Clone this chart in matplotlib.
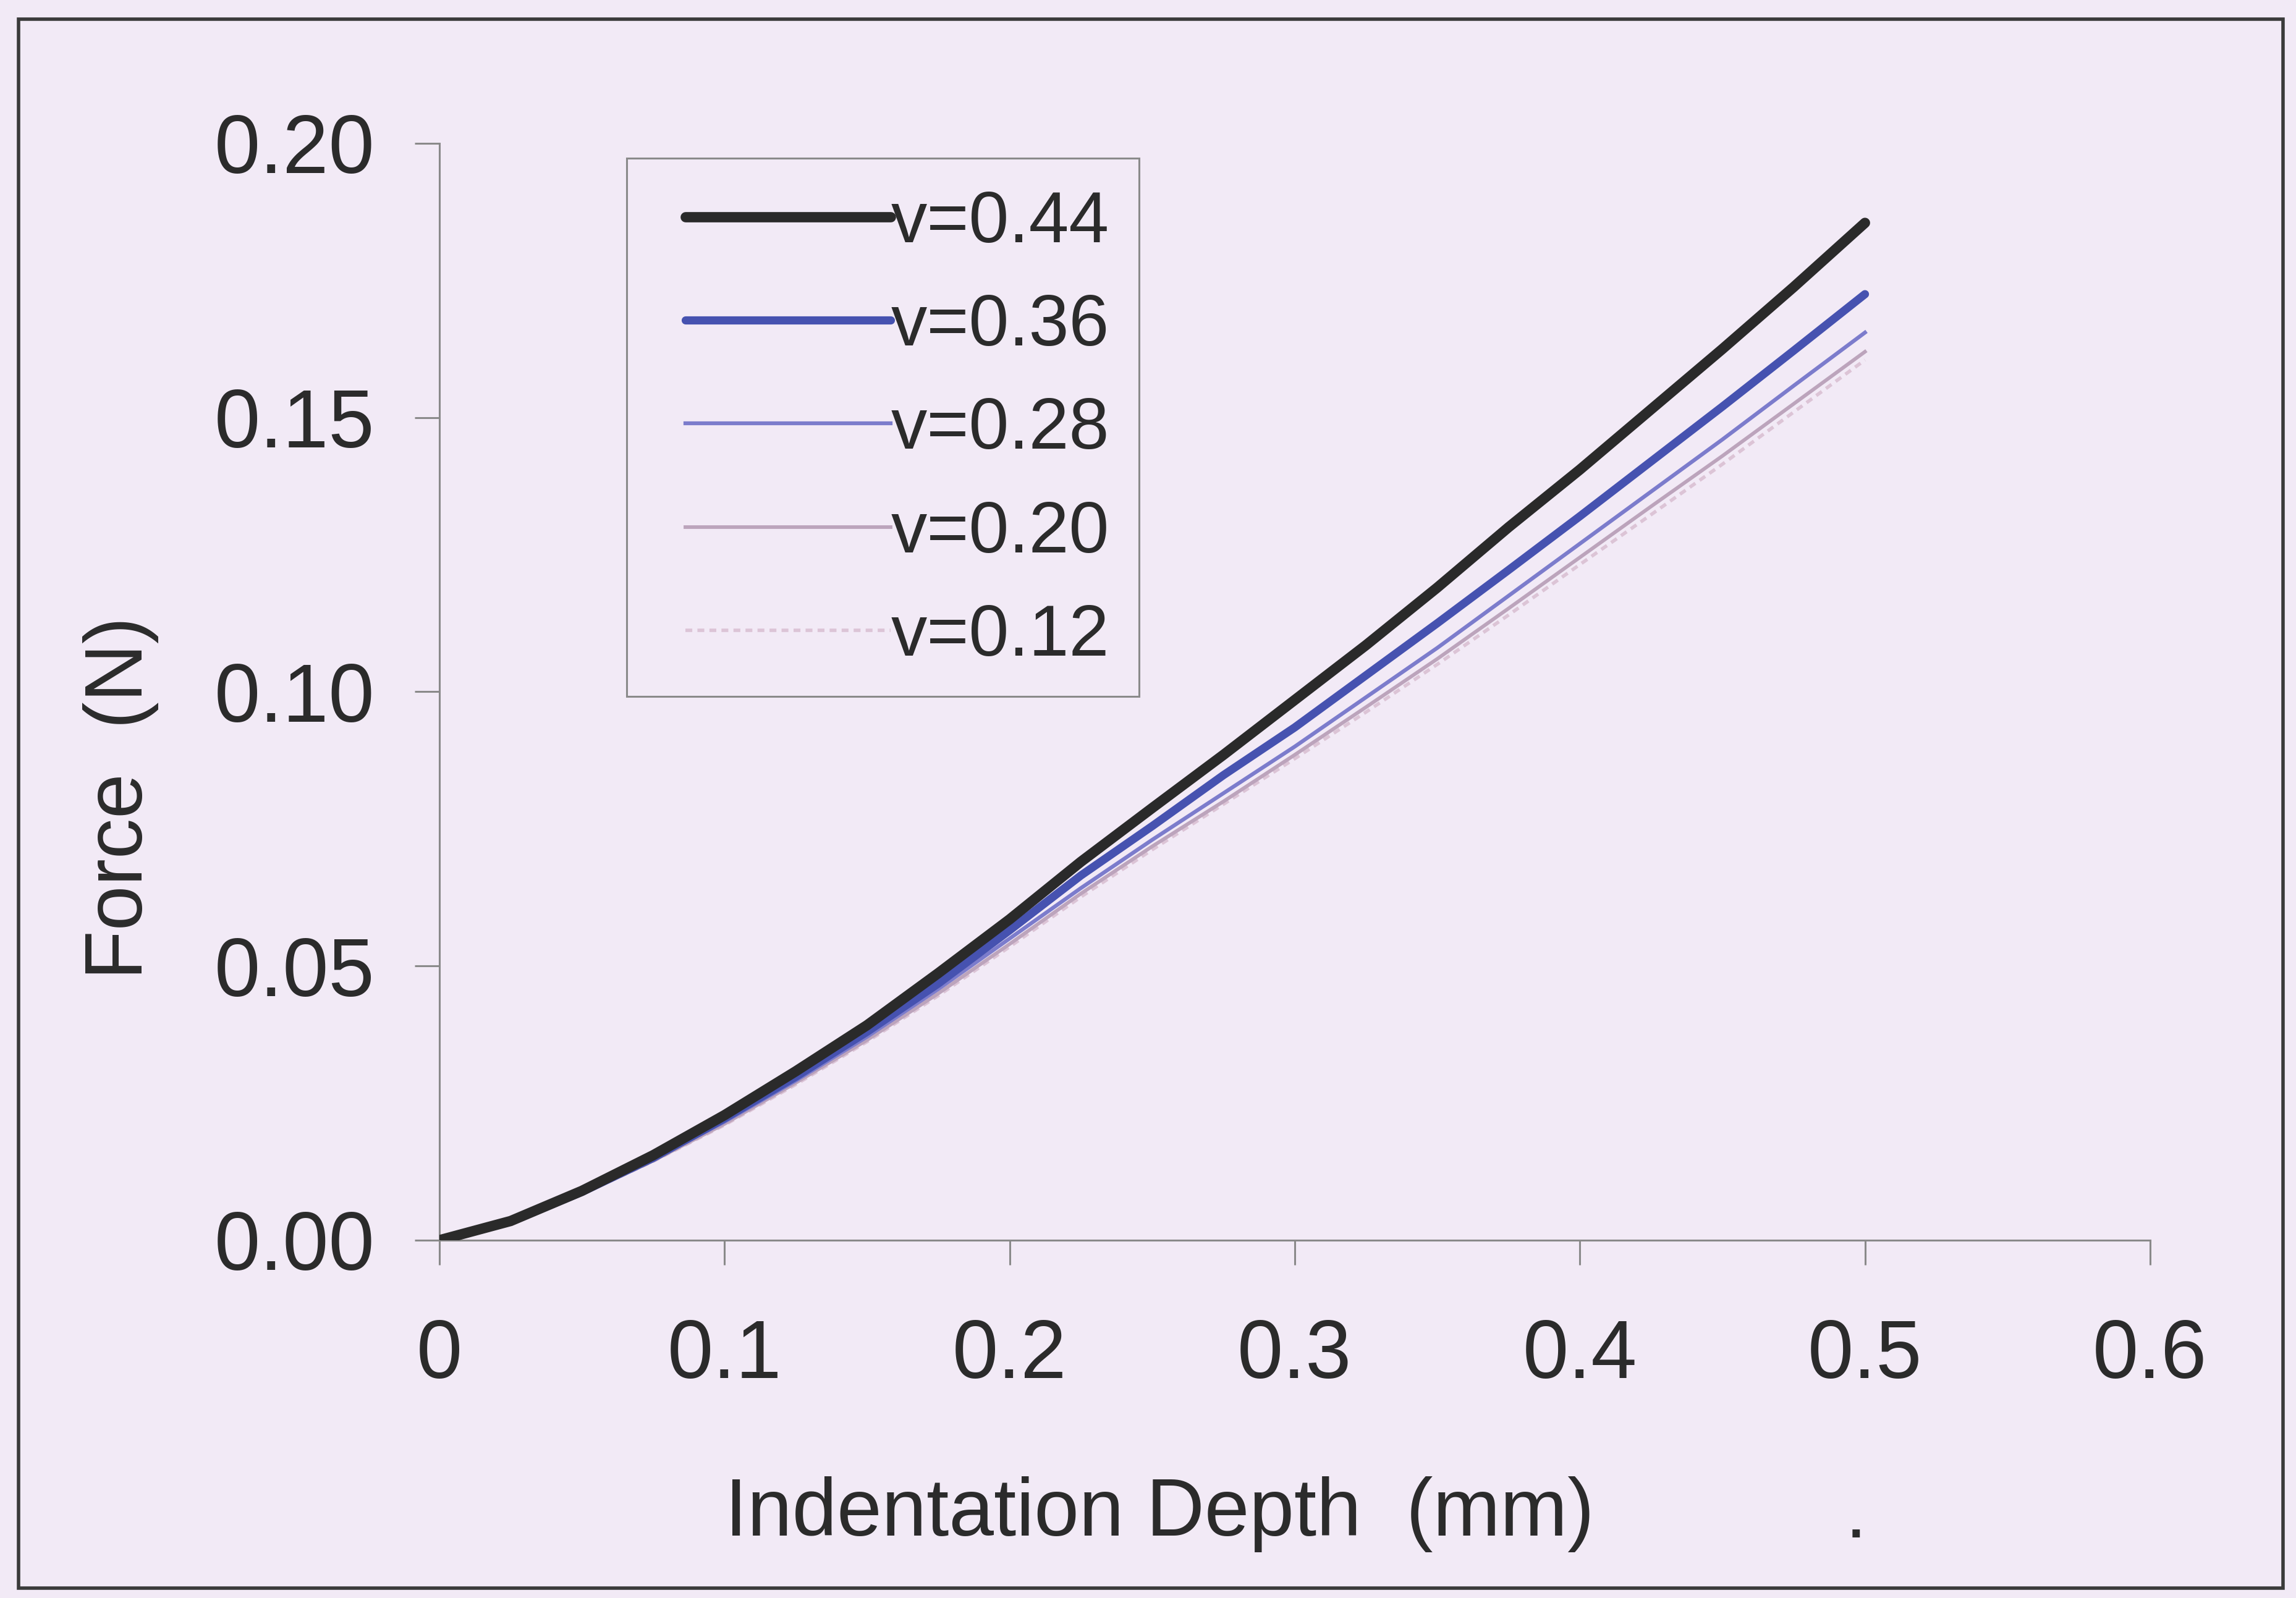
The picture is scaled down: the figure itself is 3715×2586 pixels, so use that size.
import matplotlib
matplotlib.use("Agg")
import matplotlib.pyplot as plt
from matplotlib.patches import Rectangle

plt.rcParams['font.family'] = ['Liberation Sans', 'DejaVu Sans']

# indentation depth (mm)
depth = [0.000, 0.025, 0.050, 0.075, 0.100, 0.125, 0.150, 0.175, 0.200, 0.225, 0.250,
         0.275, 0.300, 0.325, 0.350, 0.375, 0.400, 0.425, 0.450, 0.475, 0.500]

# force (N) for each poisson ratio
f_044 = [0.0000, 0.0035, 0.0090, 0.0155, 0.0228, 0.0308, 0.0392, 0.0487, 0.0585, 0.0690, 0.0788,
         0.0885, 0.0985, 0.1085, 0.1190, 0.1300, 0.1405, 0.1515, 0.1625, 0.1738, 0.1855]
f_036 = [0.0000, 0.0034, 0.0088, 0.0150, 0.0222, 0.0298, 0.0380, 0.0468, 0.0565, 0.0665, 0.0755,
         0.0848, 0.0935, 0.1030, 0.1125, 0.1222, 0.1320, 0.1420, 0.1520, 0.1622, 0.1725]
f_028 = [0.0000, 0.0033, 0.0086, 0.0147, 0.0216, 0.0291, 0.0371, 0.0458, 0.0550, 0.0642, 0.0730,
         0.0815, 0.0900, 0.0990, 0.1080, 0.1175, 0.1270, 0.1365, 0.1460, 0.1558, 0.1655]
f_020 = [0.0000, 0.0033, 0.0085, 0.0145, 0.0212, 0.0287, 0.0365, 0.0450, 0.0540, 0.0632, 0.0718,
         0.0800, 0.0885, 0.0972, 0.1060, 0.1152, 0.1245, 0.1338, 0.1430, 0.1525, 0.1620]
f_012 = [0.0000, 0.0032, 0.0084, 0.0144, 0.0210, 0.0284, 0.0362, 0.0446, 0.0535, 0.0626, 0.0712,
         0.0795, 0.0878, 0.0963, 0.1050, 0.1140, 0.1232, 0.1323, 0.1415, 0.1510, 0.1605]

labels = ["v=0.44", "v=0.36", "v=0.28", "v=0.20", "v=0.12"]
x_ticks = [0, 0.1, 0.2, 0.3, 0.4, 0.5, 0.6]
x_tick_labels = ["0", "0.1", "0.2", "0.3", "0.4", "0.5", "0.6"]
y_ticks = [0.00, 0.05, 0.10, 0.15, 0.20]
y_tick_labels = ["0.00", "0.05", "0.10", "0.15", "0.20"]

bg = "#f2eaf6"
txt = "#2b2b2b"
axis_grey = "#8a8a8a"

fig = plt.figure(figsize=(37.16, 25.86), dpi=100, facecolor=bg)
ax = fig.add_axes([0.1913, 0.2239, 0.9362 - 0.1913, 0.9103 - 0.2239])
ax.set_facecolor(bg)

ax.plot(depth, f_012, color="#dcc4d6", lw=4, ls=(0, (2, 1.5)), label=labels[4], zorder=2)
ax.plot(depth, f_020, color="#bca4bc", lw=4.2, label=labels[3], zorder=3)
ax.plot(depth, f_028, color="#7c7ccc", lw=4.5, label=labels[2], zorder=4)
ax.plot(depth, f_036, color="#4652b0", lw=9.5, label=labels[1], zorder=5, solid_capstyle="round")
ax.plot(depth, f_044, color="#2a2a2a", lw=12, label=labels[0], zorder=6, solid_capstyle="round")

ax.set_xlim(0, 0.6)
ax.set_ylim(0, 0.20)
ax.set_xticks(x_ticks)
ax.set_xticklabels(x_tick_labels)
ax.set_yticks(y_ticks)
ax.set_yticklabels(y_tick_labels)

for s in ["top", "right"]:
    ax.spines[s].set_visible(False)
for s in ["left", "bottom"]:
    ax.spines[s].set_color(axis_grey)
    ax.spines[s].set_linewidth(2.2)

ax.tick_params(axis="both", direction="out", length=29, width=2.2, color=axis_grey,
               labelsize=96, labelcolor=txt)
ax.tick_params(axis="y", pad=46)
ax.tick_params(axis="x", pad=62)

ax.set_xlabel("Indentation Depth  (mm)", fontsize=94, color=txt, labelpad=90)
ax.xaxis.set_label_coords(0.421, -0.215)
ax.set_ylabel("Force  (N)", fontsize=94, color=txt, labelpad=70)
ax.yaxis.set_label_coords(-0.164, 0.403)

# legend box drawn separately so the padding matches the original
ax.add_patch(Rectangle((0.1095, 0.496), 0.409 - 0.1095, 0.9865 - 0.496,
                       transform=ax.transAxes, facecolor=bg, edgecolor=axis_grey,
                       lw=2.2, zorder=7, clip_on=False))

handles, labs = ax.get_legend_handles_labels()
order = [4, 3, 2, 1, 0]
leg = ax.legend([handles[i] for i in order], [labs[i] for i in order],
                loc="upper left", bbox_to_anchor=(0.1438, 0.958), fontsize=84,
                frameon=False, handlelength=2.85, handletextpad=0.0,
                labelspacing=0.50, borderpad=0, borderaxespad=0)
leg.set_zorder(8)
for t in leg.get_texts():
    t.set_color(txt)

# outer frame of the scanned figure
fig.patches.append(Rectangle((0.008, 0.006), 0.986, 0.982, transform=fig.transFigure,
                             fill=False, edgecolor="#3a3a3a", lw=4))

fig.text(0.808, 0.038, ".", fontsize=90, color=txt, ha="center")

fig.savefig("out.png", dpi=100, facecolor=bg)
